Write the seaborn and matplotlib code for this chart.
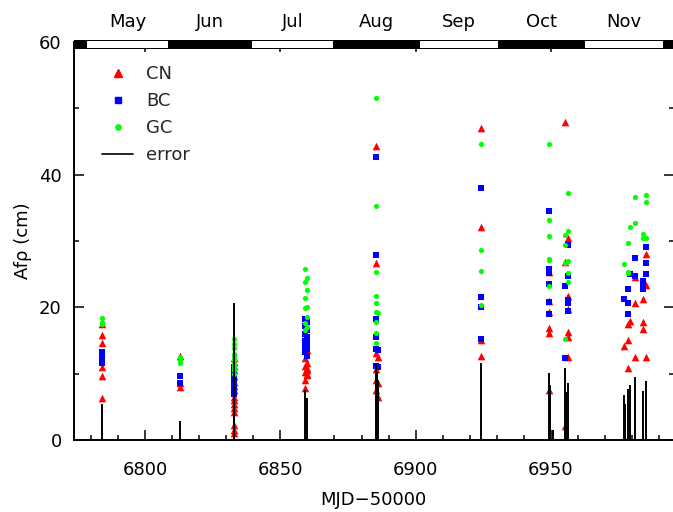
import numpy as np
import pandas as pd
import matplotlib
matplotlib.use("Agg")
import matplotlib.pyplot as plt
import matplotlib.transforms as mtransforms
from matplotlib.patches import Rectangle
from matplotlib.lines import Line2D
import seaborn as sns

# Afrho per band, keyed by epoch (MJD-50000)
cn_points = {
    6784.1: [17.5, 15.8, 14.6, 11.0, 9.7, 6.3],
    6813.0: [12.7, 8.6, 8.0],
    6832.9: [12.3, 11.8, 11.2, 10.5, 9.6, 8.8, 8.2, 7.5, 6.5, 6.0, 5.5, 4.8, 4.2, 2.2, 1.5, 1.0],
    6859.1: [15.5, 12.4, 11.2, 10.3, 9.0, 7.8],
    6860.0: [13.6, 11.6, 10.9, 10.6, 10.0, 9.8],
    6885.2: [44.3, 26.7, 13.1, 10.7, 9.0, 7.5],
    6886.0: [12.5, 8.6, 6.5],
    6924.2: [47.0, 32.1, 15.1, 12.7],
    6949.3: [25.3, 21.0, 19.3, 16.9, 16.1, 7.5],
    6955.2: [47.9, 26.8, 2.1],
    6956.3: [30.4, 21.7, 19.7, 16.3, 15.5, 12.5],
    6977.0: [14.2],
    6978.3: [17.5, 15.1, 10.9],
    6979.3: [17.9],
    6981.2: [24.6, 20.7, 12.5],
    6984.1: [21.3, 17.8, 16.7],
    6985.1: [28.0, 23.4, 12.5],
}
bc_points = {
    6784.1: [13.3, 12.5, 12.1, 11.6],
    6813.0: [9.7, 8.6],
    6832.9: [11.0, 10.3, 9.8, 9.3, 8.8, 8.3, 7.8, 7.3, 6.9],
    6859.1: [18.3, 17.2, 16.0, 15.0, 14.2, 13.2],
    6860.0: [17.8, 16.6, 15.5, 14.6, 13.7, 12.7],
    6885.2: [42.7, 27.9, 18.2, 15.5, 13.7, 11.2],
    6886.0: [13.6, 11.0],
    6924.2: [38.0, 21.6, 20.1, 15.2],
    6949.3: [34.5, 25.8, 25.2, 23.5, 20.8, 19.0],
    6955.2: [23.2, 12.4],
    6956.3: [29.4, 24.7, 21.1, 20.6, 19.5],
    6977.0: [21.3],
    6978.3: [22.8, 20.7, 19.0],
    6979.3: [25.0],
    6981.2: [27.4, 24.7],
    6984.1: [24.0, 23.7, 22.8],
    6985.1: [29.1, 26.7, 25.0],
}
gc_points = {
    6784.1: [18.4, 17.8, 17.5],
    6813.0: [12.5, 12.0, 11.6],
    6832.9: [15.2, 14.5, 13.8, 13.0, 12.5, 12.0, 11.5, 11.0, 10.6, 10.0],
    6859.1: [25.8, 23.8, 21.4, 19.9, 17.6, 16.6],
    6860.0: [24.4, 22.6, 20.1, 18.6, 17.0],
    6885.2: [51.6, 35.3, 25.3, 21.7, 20.6, 19.3, 17.8, 16.1, 14.6],
    6886.0: [19.1],
    6924.2: [44.6, 28.6, 25.5, 20.4],
    6949.3: [44.6, 33.2, 30.8, 27.3, 27.1, 23.2],
    6955.2: [30.9, 29.4, 26.7, 15.2],
    6956.3: [37.2, 31.5, 27.0, 25.2, 23.8],
    6977.0: [26.5],
    6978.3: [29.7, 25.3, 25.2],
    6979.3: [32.1],
    6981.2: [36.6, 32.7],
    6984.1: [31.1, 30.5],
    6985.1: [36.9, 35.9, 30.5],
}

# error bars drawn as lines from zero
err_mjd = [6784.1, 6813.0, 6832.9, 6832.9, 6832.9, 6859.1, 6860.0, 6885.2, 6885.6,
           6886.1, 6924.2, 6949.3, 6949.6, 6950.6, 6955.2, 6955.4, 6956.3, 6977.0,
           6977.5, 6978.3, 6979.3, 6981.2, 6984.1, 6985.1]
err_val = [5.4, 2.9, 20.6, 4.0, 2.5, 7.5, 6.3, 11.6, 10.2, 9.0, 11.6, 10.1, 8.3, 1.5,
           10.9, 7.2, 8.6, 6.8, 5.4, 7.7, 8.3, 9.5, 7.4, 8.9]

# month strip along the top
months = ["May", "Jun", "Jul", "Aug", "Sep", "Oct", "Nov"]
month_start = [6778, 6809, 6839, 6870, 6901, 6931, 6962]
month_end = [6809, 6839, 6870, 6901, 6931, 6962, 6992]

rows = []
for band, pts in [("CN", cn_points), ("BC", bc_points), ("GC", gc_points)]:
    for mjd, vals in pts.items():
        for v in vals:
            rows.append({"mjd": mjd, "afrho": v, "band": band})
df = pd.DataFrame(rows)

sns.set_theme(style="ticks")
plt.rcParams["font.family"] = ["DejaVu Sans"]

fig = plt.figure(figsize=(6.73, 5.12), dpi=100)
ax = fig.add_axes([74.2 / 673, 72 / 512, (673.5 - 74.2) / 673, 398 / 512])

colors = {"CN": "#ff0000", "BC": "#0000ff", "GC": "#00ff00"}
markers = {"CN": "^", "BC": "s", "GC": "o"}
sizes = {"CN": 30, "BC": 14, "GC": 14}
for band in ["CN", "BC", "GC"]:
    sns.scatterplot(data=df[df["band"] == band], x="mjd", y="afrho", color=colors[band],
                    marker=markers[band], s=sizes[band], linewidth=0, ax=ax, zorder=3)

ax.vlines(err_mjd, 0, err_val, color="black", lw=1.4, zorder=4)

ax.set_xlim(6773.8, 6995.3)
ax.set_ylim(0, 60)
ax.set_xticks([6800, 6850, 6900, 6950])
ax.set_xticks(np.arange(6780, 6995, 10), minor=True)
ax.set_yticks([0, 20, 40, 60])
ax.set_yticks([10, 30, 50], minor=True)
ax.tick_params(which="both", direction="in", top=True, right=True, labelsize=13,
               width=1.1, color="black", labelcolor="black")
ax.tick_params(which="major", length=7.5)
ax.tick_params(which="minor", length=3.8)
ax.tick_params(axis="x", which="major", pad=15)
ax.tick_params(axis="y", which="major", pad=9)
for sp in ax.spines.values():
    sp.set_linewidth(1.4)
    sp.set_color("black")
    sp.set_visible(True)

ax.set_xlabel("MJD\u221250000", fontsize=13, labelpad=9, color="black")
ax.set_ylabel("Af\u03c1 (cm)", fontsize=13, labelpad=5, color="black")

# month bar
trans = mtransforms.blended_transform_factory(ax.transData, ax.transAxes)
ax.add_patch(Rectangle((6773.8, 0.982), 6995.3 - 6773.8, 0.023, transform=trans,
                       facecolor="black", edgecolor="none", clip_on=False, zorder=5))
for i, (m, s, e) in enumerate(zip(months, month_start, month_end)):
    if i % 2 == 0:
        ax.add_patch(Rectangle((s + 0.5, 0.986), e - s - 1.0, 0.0155, transform=trans,
                               facecolor="white", edgecolor="none", clip_on=False, zorder=6))
    ax.text((s + e) / 2, 1.05, m, transform=trans, ha="center", va="center",
            fontsize=13, color="black")

handles = [
    Line2D([], [], ls="none", marker="^", color=colors["CN"], markersize=6),
    Line2D([], [], ls="none", marker="s", color=colors["BC"], markersize=3.8),
    Line2D([], [], ls="none", marker="o", color=colors["GC"], markersize=3.8),
    Line2D([], [], color="black", lw=1.2),
]
ax.legend(handles, ["CN", "BC", "GC", "error"], loc="upper left",
          bbox_to_anchor=(0.02, 0.982), frameon=False, fontsize=13,
          handlelength=1.7, handletextpad=0.7, labelspacing=0.5)

fig.savefig("out.png", dpi=100)
